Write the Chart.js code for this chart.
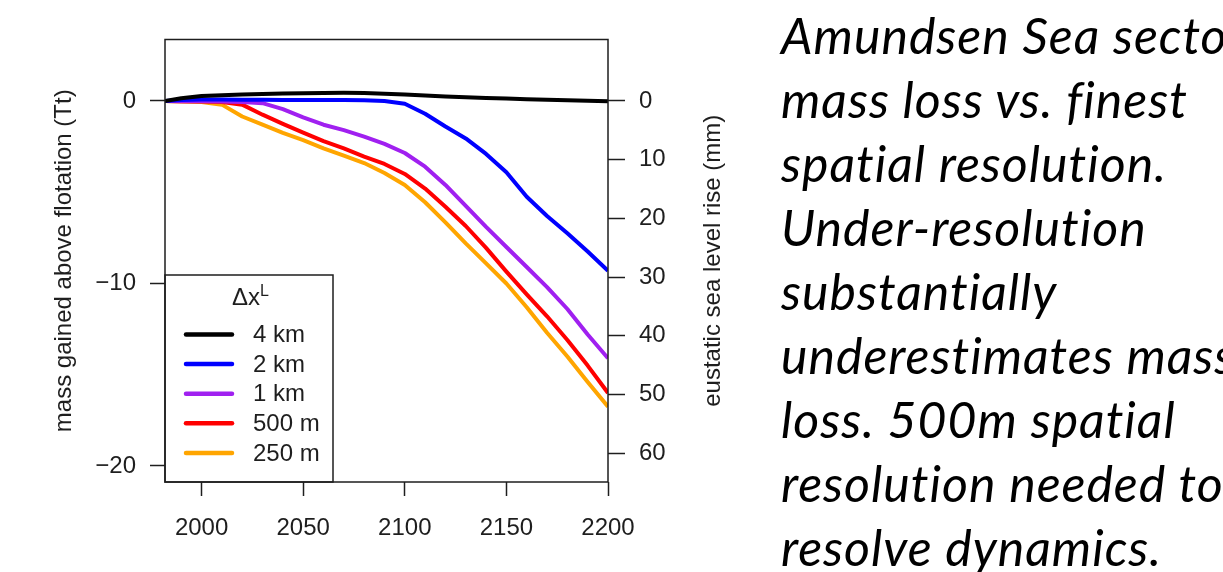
<!DOCTYPE html>
<html>
<head>
<meta charset="utf-8">
<script src="https://cdn.jsdelivr.net/npm/chart.js@4"></script>
<style>
  html, body { margin: 0; padding: 0; width: 1223px; height: 572px; overflow: hidden; background: #fff; }
  #massChart { position: absolute; left: 0; top: 0; }
  #note {
    position: absolute; left: 781px; top: 3px;
    font-family: Lato, 'Open Sans', sans-serif; font-style: italic;
    font-size: 50px; line-height: 64px; letter-spacing: 1px; color: #000; white-space: nowrap;
    font-variant-ligatures: none; font-feature-settings: "liga" 0;
  }
</style>
</head>
<body>
<canvas id="massChart" width="770" height="572"></canvas>
<div id="note">Amundsen Sea sector<br>mass loss vs. finest<br>spatial resolution.<br>Under-resolution<br>substantially<br>underestimates mass<br>loss. 500m spatial<br>resolution needed to<br>resolve dynamics.</div>
<script>
// years shared by all runs
const years = [1982, 1990, 2000, 2010, 2020, 2030, 2040, 2050, 2060, 2070, 2080, 2090,
  2100, 2110, 2120, 2130, 2140, 2150, 2160, 2170, 2180, 2190, 2200];

// mass gained above flotation (Tt)
const res4km = [0, 0.15, 0.27, 0.32, 0.36, 0.39, 0.41, 0.43, 0.44, 0.45, 0.44, 0.40,
  0.35, 0.30, 0.25, 0.21, 0.17, 0.14, 0.10, 0.07, 0.04, 0.01, -0.02];
const res2km = [0, 0.05, 0.08, 0.08, 0.07, 0.07, 0.06, 0.06, 0.05, 0.05, 0.04, 0.0,
  -0.15, -0.7, -1.4, -2.05, -2.9, -3.9, -5.25, -6.3, -7.25, -8.25, -9.3];
const res1km = [0, -0.01, -0.02, -0.03, -0.05, -0.12, -0.45, -0.9, -1.3, -1.6, -1.95, -2.35,
  -2.85, -3.6, -4.6, -5.75, -6.9, -8.0, -9.1, -10.2, -11.4, -12.8, -14.1];
const res500m = [0, -0.02, -0.03, -0.05, -0.2, -0.75, -1.25, -1.73, -2.2, -2.6, -3.05, -3.45,
  -4.0, -4.8, -5.8, -6.85, -8.05, -9.35, -10.6, -11.8, -13.1, -14.5, -16.0];
const res250m = [0, -0.03, -0.06, -0.2, -0.85, -1.3, -1.75, -2.15, -2.6, -3.0, -3.4, -3.95,
  -4.6, -5.55, -6.65, -7.8, -8.9, -10.0, -11.3, -12.7, -14.0, -15.4, -16.75];

const seriesLabels = ['4 km', '2 km', '1 km', '500 m', '250 m'];
const seriesColors = ['#000000', '#0000ff', '#a020f0', '#ff0000', '#ffa500'];
const seriesValues = [res4km, res2km, res1km, res500m, res250m];

const xTicks = [2000, 2050, 2100, 2150, 2200];
const yTicks = [-20, -10, 0];
const mmTicks = [0, 10, 20, 30, 40, 50, 60];

const xMin = 1982, xMax = 2200;
const yMin = -20.88, yMax = 3.37;
const mmPerTt = 3.108;

const axisColor = '#1e1e1e';
const fontFam = "'Liberation Sans', Arial, sans-serif";

function pairUp(vals) {
  return years.map((yr, i) => ({ x: yr, y: vals[i] }));
}

const data = {
  datasets: seriesLabels.map((lab, i) => ({
    label: lab,
    data: pairUp(seriesValues[i]),
    borderColor: seriesColors[i],
    backgroundColor: seriesColors[i],
    borderWidth: 4,
    pointRadius: 0,
    tension: 0,
    borderJoinStyle: 'round',
    order: i
  }))
};

// legend, box round the plot, right axis title drawn bottom-to-top
const framePlugin = {
  id: 'frame',
  afterDraw(chart) {
    const ctx = chart.ctx, a = chart.chartArea;
    ctx.save();
    // legend box
    const lg = { left: a.left, right: 333, top: 275, bottom: a.bottom };
    ctx.fillStyle = '#fff';
    ctx.fillRect(lg.left, lg.top, lg.right - lg.left, lg.bottom - lg.top);
    ctx.strokeStyle = axisColor;
    ctx.lineWidth = 1.5;
    ctx.strokeRect(lg.left, lg.top, lg.right - lg.left, lg.bottom - lg.top);
    ctx.fillStyle = '#1e1e1e';
    ctx.font = '24px ' + fontFam;
    ctx.textBaseline = 'alphabetic';
    ctx.textAlign = 'left';
    ctx.fillText('\u0394x', 232, 305);
    ctx.font = '16px ' + fontFam;
    ctx.fillText('L', 260, 296);
    ctx.font = '24px ' + fontFam;
    ctx.textBaseline = 'middle';
    chart.data.datasets.forEach((ds, i) => {
      const y = 334.5 + i * 29.6;
      ctx.strokeStyle = ds.borderColor;
      ctx.lineWidth = 4.5;
      ctx.lineCap = 'round';
      ctx.beginPath();
      ctx.moveTo(186, y);
      ctx.lineTo(232, y);
      ctx.stroke();
      ctx.fillStyle = '#1e1e1e';
      ctx.fillText(ds.label, 253, y + 1);
    });
    // plot frame
    ctx.strokeStyle = axisColor;
    ctx.lineWidth = 1.5;
    ctx.lineCap = 'butt';
    ctx.strokeRect(a.left, a.top, a.right - a.left, a.bottom - a.top);
    // right axis title
    ctx.translate(713, (a.top + a.bottom) / 2);
    ctx.rotate(-Math.PI / 2);
    ctx.textAlign = 'center';
    ctx.textBaseline = 'middle';
    ctx.fillText('eustatic sea level rise (mm)', 0, 0);
    ctx.restore();
  }
};

const tickFont = { family: fontFam, size: 24 };

const config = {
  type: 'line',
  data,
  options: {
    responsive: false,
    animation: false,
    events: [],
    layout: { padding: { top: 39.5, bottom: 0, left: 0, right: 0 } },
    plugins: { legend: { display: false }, tooltip: { enabled: false } },
    scales: {
      x: {
        type: 'linear',
        min: xMin,
        max: xMax,
        afterBuildTicks: s => { s.ticks = xTicks.map(v => ({ value: v })); },
        afterFit: s => { s.height = 90; },
        border: { display: false },
        grid: { drawOnChartArea: false, tickLength: 14, tickColor: axisColor, tickWidth: 1.5 },
        ticks: {
          color: '#1e1e1e', font: tickFont, padding: 18, maxRotation: 0, autoSkip: false,
          callback: v => String(v)
        }
      },
      y: {
        position: 'left',
        min: yMin,
        max: yMax,
        afterBuildTicks: s => { s.ticks = yTicks.map(v => ({ value: v })); },
        afterFit: s => { s.width = 165; },
        border: { display: false },
        grid: { drawOnChartArea: false, tickLength: 15, tickColor: axisColor, tickWidth: 1.5 },
        ticks: {
          color: '#1e1e1e', font: tickFont, padding: 14,
          callback: v => (v < 0 ? '\u2212' + Math.abs(v) : String(v))
        },
        title: {
          display: true,
          text: 'mass gained above flotation (Tt)',
          color: '#1e1e1e',
          font: tickFont,
          padding: { top: 50, bottom: 0 }
        }
      },
      y2: {
        position: 'right',
        reverse: true,
        min: -yMax * mmPerTt,
        max: -yMin * mmPerTt,
        afterBuildTicks: s => { s.ticks = mmTicks.map(v => ({ value: v })); },
        afterFit: s => { s.width = 162; },
        border: { display: false },
        grid: { drawOnChartArea: false, tickLength: 17, tickColor: axisColor, tickWidth: 1.5 },
        ticks: { color: '#1e1e1e', font: tickFont, padding: 14, callback: v => String(v) }
      }
    }
  },
  plugins: [framePlugin]
};

var massChart = new Chart(document.getElementById('massChart'), config);
</script>
</body>
</html>
